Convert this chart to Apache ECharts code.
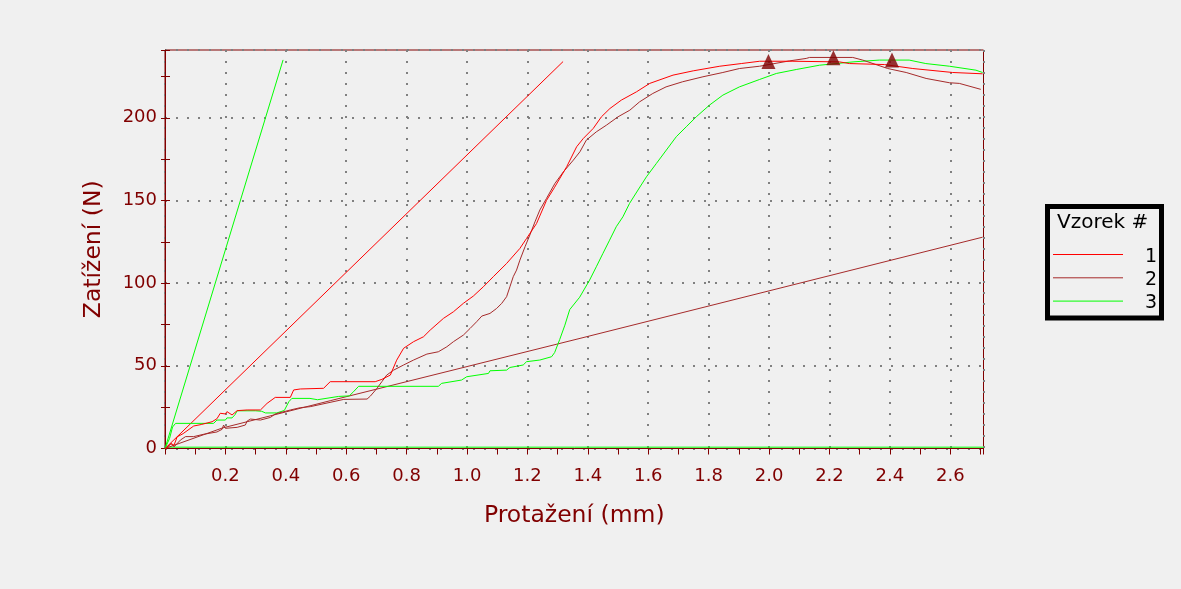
<!DOCTYPE html>
<html>
<head>
<meta charset="utf-8">
<script src="https://cdn.jsdelivr.net/npm/echarts@6/dist/echarts.min.js"></script>
<style>
html,body{margin:0;padding:0;background:#f0f0f0;}
#chart{width:1181px;height:589px;}
</style>
</head>
<body>
<div id="chart"></div>
<script>
// ---- data (x = Protažení mm, y = Zatížení N) ----
const legendLabels = ['1', '2', '3'];
const seriesColors = ['#ff0000', '#a52a2a', '#00ff00'];
const xTickLabels = ['0.2','0.4','0.6','0.8','1.0','1.2','1.4','1.6','1.8','2.0','2.2','2.4','2.6'];
const yTickLabels = ['0','50','100','150','200'];

const vzorek1 = [[0,0],[0.007,0.5],[0.02,3],[0.03,2],[0.04,7],[0.06,9],[0.095,13.6],[0.12,14.5],[0.156,16.2],[0.172,18],[0.183,21.3],[0.189,22.3],[0.2,20.9],[0.205,22.3],[0.222,20.3],[0.239,22.9],[0.272,23.3],[0.316,23.3],[0.338,27.3],[0.365,30.9],[0.415,30.9],[0.426,35.4],[0.448,36.0],[0.525,36.4],[0.547,40.4],[0.696,40.4],[0.718,41.8],[0.746,44.4],[0.767,53.4],[0.79,60.6],[0.823,64.6],[0.856,67.6],[0.878,71.6],[0.922,78.7],[0.955,82.7],[0.988,87.8],[1.021,92.2],[1.054,97.8],[1.087,103.9],[1.131,111.9],[1.175,121.0],[1.197,127],[1.23,136],[1.263,150],[1.29,158],[1.33,170.4],[1.363,182.5],[1.385,187.5],[1.418,193.6],[1.445,200.6],[1.473,205.6],[1.511,210.7],[1.561,215.7],[1.605,220.8],[1.682,225.8],[1.749,228.4],[1.837,231.2],[1.908,232.8],[1.969,234.2],[2.079,234.2],[2.233,233.8],[2.266,232.8],[2.382,232.2],[2.476,229.8],[2.608,227.4],[2.707,226.6]];

const vzorek2 = [[0,0],[0.02,3],[0.03,1],[0.051,5.1],[0.068,7.2],[0.095,7.2],[0.128,8.6],[0.172,10.0],[0.189,11.6],[0.194,14.2],[0.2,12.2],[0.239,12.8],[0.266,14.2],[0.272,16.6],[0.283,17.8],[0.316,17.2],[0.349,18.8],[0.365,20.9],[0.415,23.3],[0.448,24.7],[0.481,25.3],[0.487,26.3],[0.592,29.7],[0.669,29.9],[0.68,31.7],[0.702,36.4],[0.718,40.4],[0.734,44.4],[0.757,47.4],[0.79,50.5],[0.823,53.5],[0.867,57.1],[0.905,58.5],[0.933,61.5],[0.955,64.6],[0.988,68.6],[1.01,72.6],[1.032,76.7],[1.049,80.1],[1.076,81.7],[1.098,84.7],[1.115,87.8],[1.131,91.8],[1.142,97.8],[1.153,103.9],[1.164,107.9],[1.175,113.9],[1.192,122.0],[1.208,129.1],[1.225,137.1],[1.241,144.2],[1.263,151.2],[1.291,160.3],[1.319,167.3],[1.352,174.4],[1.374,179.5],[1.395,186.5],[1.428,191.5],[1.462,195.6],[1.5,200.6],[1.539,204.6],[1.571,209.6],[1.615,214.7],[1.659,218.7],[1.714,221.8],[1.781,224.8],[1.847,227.4],[1.902,229.8],[1.969,231.2],[2.067,234.4],[2.123,235.9],[2.134,236.5],[2.277,236.5],[2.31,234.9],[2.393,229.8],[2.454,227.4],[2.52,223.8],[2.597,221.2],[2.63,220.8],[2.701,217.2]];

const vzorek3 = [[0,0],[0.015,6],[0.025,13],[0.035,15.2],[0.161,15.2],[0.172,17.2],[0.2,17.2],[0.205,18.5],[0.222,18.5],[0.232,20.5],[0.239,22.8],[0.3,22.8],[0.305,23.5],[0.32,22.5],[0.333,21.5],[0.37,21.5],[0.395,23],[0.41,28.3],[0.42,30.3],[0.48,30.3],[0.485,29.5],[0.505,29.5],[0.51,30.3],[0.575,31.5],[0.61,31.8],[0.624,34.3],[0.641,37.6],[0.905,37.6],[0.916,39.4],[0.982,41.4],[0.999,43.4],[1.071,45.4],[1.076,47.0],[1.131,47.4],[1.142,49.0],[1.186,50.5],[1.197,52.5],[1.241,53.5],[1.28,55.5],[1.29,58],[1.307,66],[1.324,74.6],[1.34,84],[1.373,91.5],[1.406,101.9],[1.428,109.9],[1.45,118.0],[1.472,126.0],[1.494,134.1],[1.516,140.1],[1.538,148.2],[1.566,156.3],[1.594,164.3],[1.627,172.4],[1.66,180.5],[1.693,188.6],[1.726,194.6],[1.759,200.6],[1.803,207.7],[1.847,213.7],[1.902,218.7],[1.969,223.2],[2.024,226.8],[2.09,229.2],[2.167,231.8],[2.245,233.2],[2.278,233.8],[2.365,234.9],[2.464,234.9],[2.519,232.8],[2.597,231.2],[2.685,228.8],[2.707,227.4]];

// modulus (initial slope) lines
const modul1 = [[0,0],[1.318,234]];
const modul2 = [[0,0],[0.19,12.4],[0.547,28.9],[1.374,66.6],[2.707,127.8]];
const modul3 = [[0,0],[0.391,235]];
const zeroLine3 = [[0,0.8],[2.71,0.8]];

// maxima markers
const maxX = [1.998, 2.213, 2.407];
const maxY = [234.1, 236.3, 234.9];

const xMin = 0, xMax = 2.71, xStep = 0.2;
const yMin = 0, yMax = 241, yStep = 50;

// ---- chart ----
const AX = '#800000';
const FONT = 'DejaVu Sans';
const chart = echarts.init(document.getElementById('chart'), null, {renderer: 'canvas'});

const mk = (data, color) => ({
  type: 'line', data: data, showSymbol: false, symbol: 'none',
  lineStyle: {color: color, width: 1}, itemStyle: {color: color},
  animation: false, silent: true
});

const option = {
  backgroundColor: '#f0f0f0',
  animation: false,
  grid: {left: 165, top: 50, right: 197.5, bottom: 140.5, show: true,
         borderColor: AX, borderWidth: 1, backgroundColor: 'transparent',
         outerBoundsMode: 'none', containLabel: false},
  xAxis: {
    type: 'value', min: xMin, max: xMax, interval: xStep,
    name: 'Protažení (mm)', nameLocation: 'middle', nameGap: 55,
    nameTextStyle: {color: AX, fontSize: 23.5, fontFamily: FONT},
    axisLine: {show: true, onZero: false, lineStyle: {color: AX, width: 1}},
    axisTick: {show: true, length: 6, lineStyle: {color: AX}},
    minorTick: {show: true, splitNumber: 2, length: 6, lineStyle: {color: AX}},
    axisLabel: {color: AX, fontSize: 18, fontFamily: FONT, margin: 19,
      showMaxLabel: false, hideOverlap: false,
      formatter: function (v) {
        const s = v.toFixed(1);
        return xTickLabels.indexOf(s) >= 0 && Math.abs(v - parseFloat(s)) < 1e-6 ? s : '';
      }},
    splitLine: {show: true, lineStyle: {color: '#808080', width: 2, type: [2, 9]}}
  },
  yAxis: [{
    type: 'value', min: yMin, max: yMax, interval: yStep,
    name: 'Zatížení (N)', nameLocation: 'middle', nameGap: 59, nameRotate: 90,
    nameTextStyle: {color: AX, fontSize: 23.5, fontFamily: FONT},
    axisLine: {show: true, onZero: false, lineStyle: {color: AX, width: 1}},
    axisTick: {show: true, length: 4, lineStyle: {color: AX}},
    minorTick: {show: true, splitNumber: 2, length: 4, lineStyle: {color: AX}},
    axisLabel: {color: AX, fontSize: 18, fontFamily: FONT, margin: 8,
      showMaxLabel: false, hideOverlap: false,
      formatter: function (v) {
        const s = String(Math.round(v));
        return yTickLabels.indexOf(s) >= 0 && Math.abs(v - Math.round(v)) < 1e-6 ? s : '';
      }},
    splitLine: {show: true, lineStyle: {color: '#808080', width: 2, type: [2, 9]}}
  }, {
    type: 'value', min: yMin, max: yMax, interval: yStep, position: 'left',
    axisLine: {show: false}, axisLabel: {show: false}, splitLine: {show: false},
    axisTick: {show: true, inside: true, length: 5, lineStyle: {color: AX}},
    minorTick: {show: true, splitNumber: 2, length: 5, lineStyle: {color: AX}}
  }],
  series: [
    mk(zeroLine3, seriesColors[2]),
    mk(modul2, seriesColors[1]),
    mk(modul1, seriesColors[0]),
    mk(modul3, seriesColors[2]),
    mk(vzorek3, seriesColors[2]),
    mk(vzorek2, seriesColors[1]),
    mk(vzorek1, seriesColors[0]),
    {
      type: 'scatter', data: maxX.map((x, i) => [x, maxY[i]]),
      symbol: 'triangle', symbolSize: [14, 15],
      itemStyle: {color: '#800000'}, silent: true, animation: false, z: 5
    }
  ],
  graphic: [
    {type: 'rect', shape: {x: 1047.5, y: 206.5, width: 114, height: 111.5},
     style: {fill: 'none', stroke: '#000', lineWidth: 5}, silent: true},
    {type: 'text', x: 1057, y: 223,
     style: {text: 'Vzorek #', font: '20px "DejaVu Sans"', fill: '#000', align: 'left', verticalAlign: 'middle'}},
  ].concat(legendLabels.flatMap((lab, i) => [
    {type: 'line', shape: {x1: 1053, y1: 254.5 + i * 23.3, x2: 1123, y2: 254.5 + i * 23.3},
     style: {stroke: seriesColors[i], lineWidth: 1}, silent: true},
    {type: 'text', x: 1157, y: 257 + i * 23,
     style: {text: lab, font: '19px "DejaVu Sans"', fill: '#000', align: 'right', verticalAlign: 'middle'}}
  ]))
};
chart.setOption(option);
</script>
</body>
</html>
